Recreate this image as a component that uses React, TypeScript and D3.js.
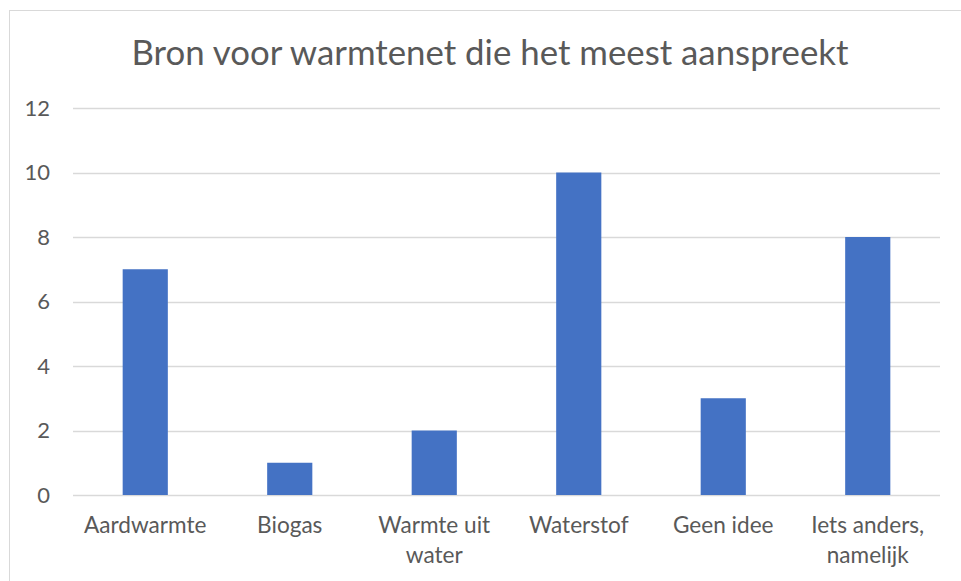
import React from "react";
import * as d3 from "d3";

const title = "Bron voor warmtenet die het meest aanspreekt";
const categories = ["Aardwarmte", "Biogas", "Warmte uit water", "Waterstof", "Geen idee", "Iets anders, namelijk"];
const values = [7, 1, 2, 10, 3, 8];
const yTicks = [0, 2, 4, 6, 8, 10, 12];

const W = 961;
const H = 581;
const FONT = "Lato, 'Noto Sans', sans-serif";
const TEXT = "#595959";
const GRID = "#d9d9d9";
const BAR = "#4472c4";

function wrap(label: string, maxChars: number): string[] {
  const words = label.split(" ");
  const lines: string[] = [];
  let cur = "";
  for (const w of words) {
    const t = cur ? cur + " " + w : w;
    if (t.length > maxChars && cur) {
      lines.push(cur);
      cur = w;
    } else cur = t;
  }
  if (cur) lines.push(cur);
  return lines;
}

export default function App() {
  const x = d3.scaleBand<string>().domain(categories).range([73, 940]).paddingInner(0.6875).paddingOuter(0.34375);
  const band = d3.scaleBand<string>().domain(categories).range([73, 940]);
  const y = d3.scaleLinear().domain([0, 12]).range([495, 108]);
  return (
    <svg width={W} height={H} style={{ position: "absolute", left: 0, top: 0, background: "#fff" }} fontFamily={FONT}>
      <rect x={0} y={0} width={W} height={H} fill="#fff" />
      <rect x={9.5} y={10.5} width={1200} height={1200} fill="none" stroke={GRID} strokeWidth={1} />
      <text x={490} y={65} textAnchor="middle" fontSize={34.8} fill={TEXT}>{title}</text>
      {yTicks.map((t) => (
        <g key={t}>
          <line x1={73} x2={940} y1={Math.round(y(t)) + 0.5} y2={Math.round(y(t)) + 0.5} stroke={GRID} strokeWidth={1.5} />
          <text x={50} y={y(t)} dy="0.35em" textAnchor="end" fontSize={22} fill={TEXT}>{t}</text>
        </g>
      ))}
      {categories.map((c, i) => (
        <rect key={c} x={x(c)} y={y(values[i])} width={x.bandwidth()} height={y(0) - y(values[i])} fill={BAR} />
      ))}
      {categories.map((c) => (
        <text key={c} x={(band(c) as number) + band.bandwidth() / 2} y={533} textAnchor="middle" fontSize={22.6} fill={TEXT}>
          {wrap(c, 12).map((l, j) => (
            <tspan key={j} x={(band(c) as number) + band.bandwidth() / 2} dy={j === 0 ? 0 : 30}>{l}</tspan>
          ))}
        </text>
      ))}
    </svg>
  );
}
